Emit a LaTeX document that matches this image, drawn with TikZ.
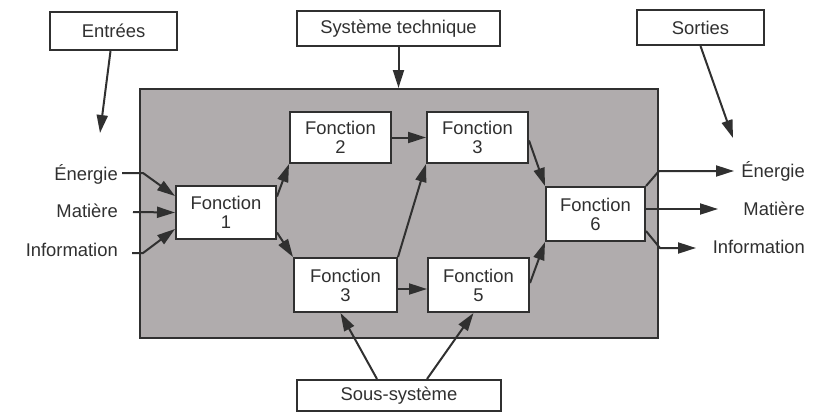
\documentclass[tikz,border=0pt]{standalone}
\usepackage{fontspec}
\setmainfont{Liberation Sans}
\usetikzlibrary{arrows.meta,calc}
\definecolor{ink}{HTML}{303030}
\definecolor{halftone}{RGB}{176,172,173}
\begin{document}
\begin{tikzpicture}[x=1pt,y=-1pt,
  every node/.style={font=\fontsize{18.4}{19}\selectfont, text=ink},
  box/.style={draw=ink, line width=2pt, fill=white, inner sep=0pt, align=center},
  fbox/.style={box, minimum width=101pt, minimum height=51pt},
  conn/.style={draw=ink, line width=2pt, -{Triangle[length=18pt,width=11pt]}},
  lbl/.style={inner sep=0pt}]
\useasboundingbox (0,0) rectangle (821,415);

% shaded technical system
\node[draw=ink, line width=2pt, fill=halftone, inner sep=0pt,
      minimum width=518pt, minimum height=249pt] (bg) at (399,213.5) {};

% header boxes
\node[box, minimum width=127pt, minimum height=38pt] (entrees) at (113.5,31) {Entrées};
\node[box, minimum width=203pt, minimum height=35pt] (tech) at (398.5,28.5) {Système technique};
\node[box, minimum width=127pt, minimum height=35pt] (sorties) at (700.5,27.5) {Sorties};
\node[box, minimum width=204pt, minimum height=31pt] (sous) at (399,395.5) {Sous-système};

% functions
\node[fbox, minimum width=100pt, minimum height=53pt] (f1) at (226,212.5) {Fonction\\1};
\node[fbox] (f2) at (340.5,137.5) {Fonction\\2};
\node[fbox] (f3t) at (477.5,137.5) {Fonction\\3};
\node[fbox, minimum width=103pt, minimum height=54pt] (f3b) at (345.5,285) {Fonction\\3};
\node[fbox, minimum height=54pt] (f5) at (478.5,285) {Fonction\\5};
\node[fbox, minimum width=99pt, minimum height=54pt] (f6) at (595.5,214) {Fonction\\6};

% flow labels
\node[lbl, anchor=base east] (ein) at (118,180) {Énergie};
\node[lbl, anchor=base east] (min) at (118,217) {Matière};
\node[lbl, anchor=base east] (iin) at (118,256) {Information};
\node[lbl, anchor=base east] (eout) at (805,177) {Énergie};
\node[lbl, anchor=base east] (mout) at (805,215) {Matière};
\node[lbl, anchor=base east] (iout) at (805,253) {Information};

% free ends of the pointers
\coordinate (entreesTip) at (100,133);
\coordinate (sortiesTip) at (733,138);
\coordinate (eoTip) at (734,171);
\coordinate (moTip) at (718,209);
\coordinate (ioTip) at (696,248);

% pointers from the headers
\draw[conn] ([xshift=-3pt]entrees.south) -- (entreesTip);
\draw[conn] (tech.south) -- (tech.south |- bg.north);
\draw[conn] (sorties.south) -- (sortiesTip);

% inputs
\draw[conn] ($(ein.base east)+(4,-7)$) -- ++(21,0) -- ([yshift=16.5pt]f1.west);
\draw[conn] ($(min.base east)+(15,-5)$) -- (f1.west);
\draw[conn] ($(iin.base east)+(14,-3)$) -- ++(11,0) -- ([yshift=-16.5pt]f1.west);

% outputs
\draw[conn] (f6.north east) -- (bg.east |- eoTip) -- (eoTip);
\draw[conn] ([yshift=5pt]f6.east) -- (moTip);
\draw[conn] ([yshift=-17pt]f6.east) -- ($(bg.east |- ioTip)+(1,0)$) -- (ioTip);

% internal flow
\draw[conn] ([yshift=16pt]f1.east) -- (f2.south west);
\draw[conn] ([yshift=-20pt]f1.east) -- (f3b.north west);
\draw[conn] (f2.east) -- (f3t.west);
\draw[conn] (f3b.north east) -- (f3t.south west);
\draw[conn] ([yshift=-3pt]f3t.east) -- (f6.north west);
\draw[conn] ([yshift=-4pt]f3b.east) -- ([yshift=-4pt]f5.west);
\draw[conn] ([yshift=2pt]f5.east) -- (f6.south west);

% subsystem pointers
\draw[conn] ([xshift=-22pt]sous.north) -- ([xshift=-5pt]f3b.south);
\draw[conn] ([xshift=28pt]sous.north) -- ([xshift=-5pt]f5.south);
\end{tikzpicture}
\end{document}
